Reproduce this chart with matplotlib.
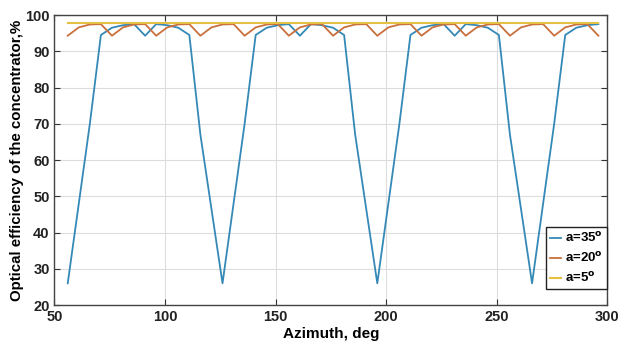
import matplotlib.pyplot as plt
import numpy as np

plt.rcParams['font.family'] = ['Liberation Sans', 'DejaVu Sans']
plt.rcParams['font.weight'] = 'bold'

# azimuth samples, deg
azimuth = list(range(56, 297, 5))

# a=35 deg: one 70-degree cycle (14 samples), then repeated
blue_cycle = [26, 48, 70, 94.5, 96.5, 97.2, 97.5, 94.3, 97.5, 97.2, 96.5, 94.5, 67, 46.5]
eff_35 = (blue_cycle * 4)[:42] + [26, 48, 70, 94.5, 96.5, 97.2, 97.5]

# a=20 deg: 20-degree cycle (4 samples)
orange_cycle = [94.3, 96.6, 97.4, 97.5]
eff_20 = orange_cycle * 12 + [94.3]

# a=5 deg: almost flat
eff_5 = [97.7] * len(azimuth)

labels = ['a=35$^{\\mathbf{o}}$', 'a=20$^{\\mathbf{o}}$', 'a=5$^{\\mathbf{o}}$']
colors = ['#3489b6', '#c9703c', '#e6c042']

fig = plt.figure(figsize=(6.19, 3.42), dpi=100)
ax = fig.add_axes([0.088, 0.108, 0.893, 0.848])

ax.plot(azimuth, eff_35, color=colors[0], lw=1.3, label=labels[0])
ax.plot(azimuth, eff_20, color=colors[1], lw=1.3, label=labels[1])
ax.plot(azimuth, eff_5, color=colors[2], lw=1.5, label=labels[2])

ax.set_xlim(50, 300)
ax.set_ylim(20, 100)
ax.set_xticks(np.arange(50, 301, 50))
ax.set_yticks(np.arange(20, 101, 10))
ax.grid(True, color='#dddddd', lw=0.8)
ax.set_axisbelow(True)
ax.tick_params(direction='in', top=True, right=True, labelsize=10.5, length=4, colors='#333333', labelcolor='#222222')
for s in ax.spines.values():
    s.set_color('#444444')
    s.set_linewidth(1.0)

ax.set_xlabel('Azimuth, deg', fontsize=11, fontweight='bold', labelpad=2)
ax.set_ylabel('Optical efficiency of the concentrator,%', fontsize=10.8, fontweight='bold', labelpad=1)

leg = ax.legend(loc='lower right', bbox_to_anchor=(1.0, 0.055), fontsize=9.5, handlelength=0.9,
                handletextpad=0.3, borderpad=0.3, labelspacing=0.45, fancybox=False, framealpha=1,
                borderaxespad=0.0)
leg.get_frame().set_edgecolor('#222222')
leg.get_frame().set_linewidth(1.0)

fig.savefig('out.png', dpi=100)
